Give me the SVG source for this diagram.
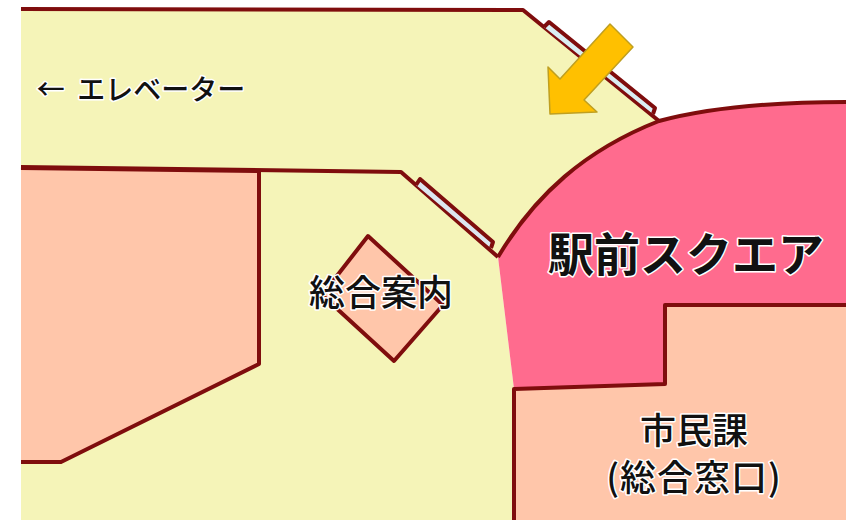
<svg xmlns="http://www.w3.org/2000/svg" width="859" height="520" viewBox="0 0 859 520">
<style>
.wall{stroke:#7f0d0d;stroke-width:4;stroke-linejoin:round}
.y{fill:#f5f4b8}.p{fill:#ffc6aa}.k{fill:#ff6b8e}
.t{font-family:"Noto Sans CJK JP","Noto Sans CJK SC",sans-serif;font-weight:500;fill:#111;stroke:#fff;stroke-width:3;paint-order:stroke;stroke-linejoin:round;text-anchor:middle}
</style>
<rect width="859" height="520" fill="#fff"/>
<g id="lobby">
<path class="y" d="M21 9L523 10L659 121L640 200L498 257L514 389V520H21Z"/>
<path class="wall" fill="none" d="M21 9L523 10L659 121"/>
<path class="wall" fill="none" d="M21 167L401 172L498 257"/>
</g>
<g id="left-room"><path class="p wall" d="M21 168L259 171V364L61 462H21"/></g>
<g id="square">
<path class="k" d="M846 101C780 102 715 106 659 121C585 150 535 195 498 257L514 389L665 384V305H846Z"/>
<path class="wall" fill="none" d="M846 102C780 102 715 106 659 121C585 150 535 195 498 257"/>
<text class="t" x="686" y="271" font-size="46" style="font-weight:700">駅前スクエア</text>
</g>
<g id="citizen-room">
<path class="p" d="M514 389L665 384V305H846V520H514Z"/>
<path class="wall" fill="none" d="M846 305H665V384L514 389V520"/>
<text class="t" x="694" y="444" font-size="36">市民課</text>
<text class="t" x="694" y="491" font-size="36" letter-spacing="1">(総合窓口)</text>
</g>
<g id="info">
<path class="p wall" d="M368 236L443 305L394 361L322 295Z"/>
<text class="t" x="381" y="306" font-size="36">総合案内</text>
</g>
<g id="elevator"><text class="t" x="141" y="100" font-size="28" word-spacing="6">← エレベーター</text></g>
<g id="window-upper"><path d="M544 27L549 22L655 108L653 114" fill="#daeef3" stroke="#7f0d0d" stroke-width="4" stroke-linejoin="round"/></g>
<g id="window-lower"><path d="M416 185L420 179L493 242L491 248" fill="#dce6f1" stroke="#7f0d0d" stroke-width="4" stroke-linejoin="round"/></g>
<g id="arrow"><path d="M610 24L633 47L584 100L597 112L550 114L548 67L560 79Z" fill="#ffc000" stroke="#bf9f20" stroke-width="1.5" stroke-linejoin="round"/></g>
<g id="connectors"/>
</svg>
